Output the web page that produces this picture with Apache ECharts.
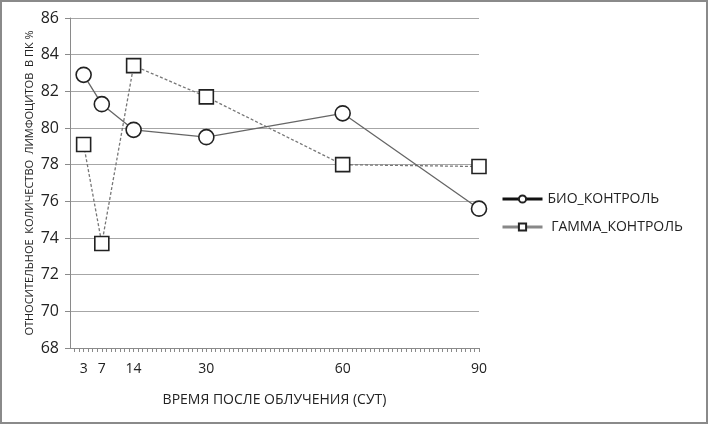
<!DOCTYPE html>
<html>
<head>
<meta charset="utf-8">
<script src="https://cdn.jsdelivr.net/npm/echarts@6/dist/echarts.min.js"></script>
<style>
  html, body { margin: 0; padding: 0; background: #fff; }
  #chart { width: 708px; height: 424px; box-sizing: border-box; border: 2px solid #8a8a8a; }
</style>
</head>
<body>
<div id="chart"></div>
<script>
// дни после облучения
const days = [3, 7, 14, 30, 60, 90]
const bio = [82.9, 81.3, 79.9, 79.5, 80.8, 75.6]
const gamma = [79.1, 73.7, 83.4, 81.7, 78.0, 77.9]
const xTickLabels = [3, 7, 14, 30, 60, 90]

const font = '"Open Sans", "Noto Sans", sans-serif'
const chart = echarts.init(document.getElementById('chart'))

const pairs = (xs, ys) => xs.map((x, i) => [x, ys[i]])

chart.setOption({
  animation: false,
  textStyle: { fontFamily: font },
  grid: { left: 68, top: 16, right: 227, bottom: 74 },
  legend: {
    orient: 'vertical',
    left: 494,
    top: 185,
    itemWidth: 40,
    itemHeight: 9,
    itemGap: 14,
    textStyle: { fontSize: 14, color: '#222', fontFamily: font },
    data: [
      { name: 'БИО_КОНТРОЛЬ', lineStyle: { color: '#111', width: 3, type: 'solid' } },
      { name: 'ГАММА_КОНТРОЛЬ', lineStyle: { color: '#888', width: 3, type: 'solid' } }
    ],
    formatter: name => name === 'ГАММА_КОНТРОЛЬ' ? ' ' + name : name
  },
  xAxis: {
    type: 'value',
    min: 0,
    max: 90,
    interval: 1,
    name: 'ВРЕМЯ ПОСЛЕ ОБЛУЧЕНИЯ (СУТ)',
    nameLocation: 'middle',
    nameGap: 45,
    nameMoveOverlap: false,
    nameTextStyle: { fontSize: 14, color: '#222' },
    axisLine: { lineStyle: { color: '#8a8a8a' } },
    axisTick: { show: true, length: 4, interval: 0, lineStyle: { color: '#8a8a8a' } },
    axisLabel: {
      interval: 0,
      hideOverlap: false,
      showMinLabel: false,
      showMaxLabel: true,
      fontSize: 14,
      color: '#222',
      margin: 14,
      formatter: v => xTickLabels.includes(v) ? String(v) : ''
    },
    splitLine: { show: false }
  },
  yAxis: {
    type: 'value',
    min: 68,
    max: 86,
    interval: 2,
    name: 'ОТНОСИТЕЛЬНОЕ  КОЛИЧЕСТВО  ЛИМФОЦИТОВ  В ПК %',
    nameLocation: 'middle',
    nameGap: 35,
    nameMoveOverlap: false,
    nameTextStyle: { fontSize: 11, color: '#222' },
    axisLine: { show: true, lineStyle: { color: '#8a8a8a' } },
    axisTick: { show: true, length: 5, lineStyle: { color: '#8a8a8a' } },
    axisLabel: { fontSize: 16, color: '#222', margin: 11 },
    splitLine: { lineStyle: { color: '#a6a6a6', width: 1 } }
  },
  series: [
    {
      name: 'БИО_КОНТРОЛЬ',
      type: 'line',
      data: pairs(days, bio),
      symbol: 'circle',
      symbolSize: 15,
      lineStyle: { color: '#666', width: 1.3 },
      itemStyle: { color: '#fff', borderColor: '#222', borderWidth: 1.6 },
      z: 3
    },
    {
      name: 'ГАММА_КОНТРОЛЬ',
      type: 'line',
      data: pairs(days, gamma),
      symbol: 'rect',
      symbolSize: 14,
      lineStyle: { color: '#777', width: 1.3, type: [3, 2] },
      itemStyle: { color: '#fff', borderColor: '#222', borderWidth: 1.6 },
      z: 2
    }
  ]
})
</script>
</body>
</html>
